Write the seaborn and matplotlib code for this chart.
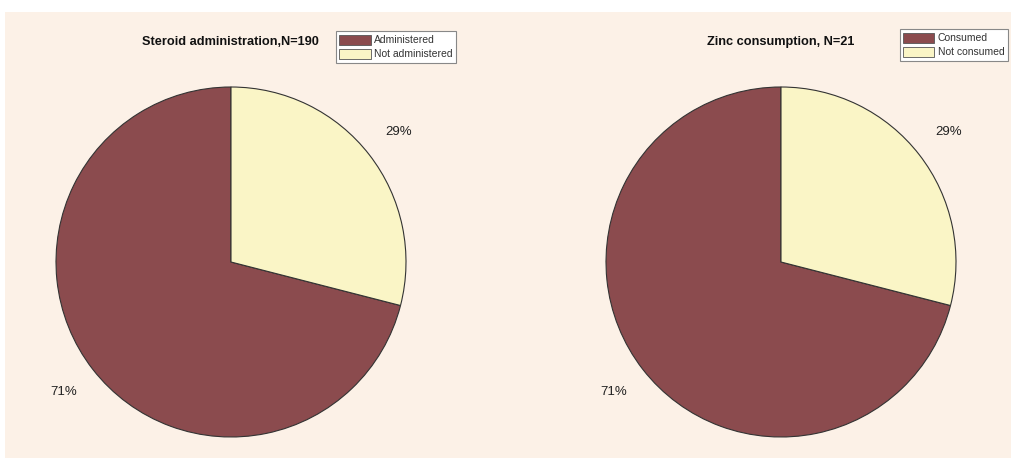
import matplotlib
matplotlib.use("Agg")
import matplotlib.pyplot as plt
import seaborn as sns
from matplotlib.patches import Rectangle, Patch

sns.set_theme(style="white")
plt.rcParams['font.family'] = ['Liberation Sans', 'DejaVu Sans']

# Data
titles = ["Steroid administration,N=190", "Zinc consumption, N=21"]
labels_1 = ["Administered", "Not administered"]
labels_2 = ["Consumed", "Not consumed"]
values_1 = [71, 29]
values_2 = [71, 29]
colors = ["#8B4B4E", "#FAF5C6"]

W, H = 1011, 458
fig = plt.figure(figsize=(W / 100, H / 100), dpi=100, facecolor="white")
fig.patches.append(Rectangle((5 / W, 0), 1 - 5 / W, 1 - 12 / H, transform=fig.transFigure,
                             facecolor="#FCF1E7", edgecolor="none", zorder=-10))

def px_axes(cx, cy, r):
    return [(cx - r) / W, 1 - (cy + r) / H, 2 * r / W, 2 * r / H]

specs = [
    (231, 262, values_1, labels_1, titles[0], (230, 42), (456, 31)),
    (781, 262, values_2, labels_2, titles[1], (781, 42), (1008, 29)),
]

for cx, cy, vals, labs, title, tpos, lpos in specs:
    ax = fig.add_axes(px_axes(cx, cy, 175))
    ax.set_facecolor("none")
    ax.set_zorder(1)
    wedges, texts, autotexts = ax.pie(
        vals, colors=colors, startangle=90, counterclock=True,
        autopct="%d%%", pctdistance=1.21,
        wedgeprops=dict(edgecolor="#333333", linewidth=0.8),
        textprops=dict(fontsize=9.5, color="#222222"))
    ax.set_xlim(-1, 1)
    ax.set_ylim(-1, 1)
    ax.set_aspect("equal")
    ax.axis("off")
    fig.text(tpos[0] / W, 1 - tpos[1] / H, title, ha="center", va="center",
             fontsize=9.2, fontweight="bold", color="#111111")
    handles = [Patch(facecolor=c, edgecolor="#555555", linewidth=0.6) for c in colors]
    leg = fig.legend(handles, labs, loc="upper right",
                     bbox_to_anchor=(lpos[0] / W, 1 - lpos[1] / H),
                     fontsize=7.5, frameon=True, fancybox=False, framealpha=1,
                     edgecolor="#888888", handlelength=3.0, handleheight=1.1,
                     handletextpad=0.3, borderpad=0.35, labelspacing=0.35,
                     borderaxespad=0)
    leg.get_frame().set_linewidth(0.8)
    for t in leg.get_texts():
        t.set_color("#333333")

fig.savefig("out.png", dpi=100, facecolor="white")
